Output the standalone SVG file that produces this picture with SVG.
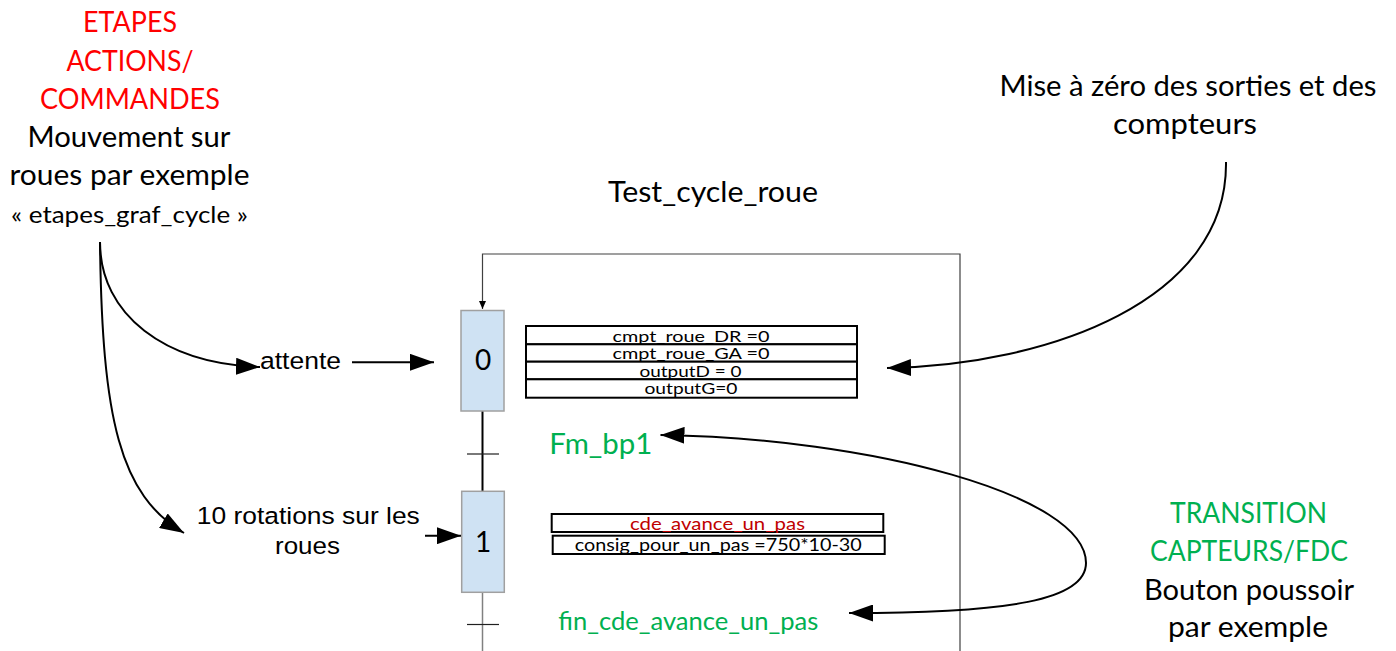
<svg xmlns="http://www.w3.org/2000/svg" width="1396" height="651" viewBox="0 0 1396 651">
  <style>
    .cal { font-family: Lato, "Noto Sans", "DejaVu Sans", sans-serif; }
    .ari { font-family: "Liberation Sans", Arial, sans-serif; }
    .red { fill: #ff0000; }
    .grn { fill: #00b050; }
    .blk { fill: #000000; }
    .dred { fill: #c00000; }
    .step { fill: #cfe2f3; stroke: #a0a0a0; stroke-width: 1.5; }
    .act { fill: #ffffff; stroke: #000000; stroke-width: 2; }
    .conn { fill: none; stroke: #000000; stroke-width: 2; }
    .frame { fill: none; stroke: #404040; stroke-width: 1.2; }
    .tick { stroke: #202020; stroke-width: 1.2; }
  </style>
  <defs>
    <marker id="head" markerUnits="userSpaceOnUse" viewBox="0 0 24 17" refX="24" refY="8.5" markerWidth="24" markerHeight="17" orient="auto-start-reverse">
      <path d="M0,0 L24,8.5 L0,17 z" fill="#000000"/>
    </marker>
    <marker id="small" markerUnits="userSpaceOnUse" viewBox="0 0 8 7" refX="8" refY="3.5" markerWidth="8" markerHeight="7" orient="auto">
      <path d="M0,0 L8,3.5 L0,7 z" fill="#000000"/>
    </marker>
  </defs>

  <rect x="0" y="0" width="1396" height="651" fill="#ffffff"/>

  <!-- explanatory captions -->
  <g id="legend-steps" class="cal" text-anchor="middle" font-size="28.5">
    <text class="red" x="130" y="32" textLength="94" lengthAdjust="spacingAndGlyphs">ETAPES</text>
    <text class="red" x="130" y="71" textLength="127" lengthAdjust="spacingAndGlyphs">ACTIONS/</text>
    <text class="red" x="130" y="109" textLength="180" lengthAdjust="spacingAndGlyphs">COMMANDES</text>
    <text class="blk" x="129" y="147" textLength="203" lengthAdjust="spacingAndGlyphs">Mouvement sur</text>
    <text class="blk" x="129.5" y="185" textLength="240" lengthAdjust="spacingAndGlyphs">roues par exemple</text>
    <text class="blk" x="129.5" y="223" font-size="23" textLength="237" lengthAdjust="spacingAndGlyphs">« etapes_graf_cycle »</text>
  </g>

  <g id="legend-reset" class="cal blk" text-anchor="middle" font-size="28.5">
    <text x="1188" y="96" textLength="377" lengthAdjust="spacingAndGlyphs">Mise à zéro des sorties et des</text>
    <text x="1185" y="134" textLength="144" lengthAdjust="spacingAndGlyphs">compteurs</text>
  </g>

  <g id="legend-transition" class="cal" text-anchor="middle" font-size="28.5">
    <text class="grn" x="1248.5" y="523" textLength="157" lengthAdjust="spacingAndGlyphs">TRANSITION</text>
    <text class="grn" x="1249" y="561" textLength="198" lengthAdjust="spacingAndGlyphs">CAPTEURS/FDC</text>
    <text class="blk" x="1249" y="600" textLength="210" lengthAdjust="spacingAndGlyphs">Bouton poussoir</text>
    <text class="blk" x="1248" y="637" textLength="160" lengthAdjust="spacingAndGlyphs">par exemple</text>
  </g>

  <g id="title" class="cal blk" text-anchor="middle" font-size="28.5">
    <text x="713" y="202" textLength="210" lengthAdjust="spacingAndGlyphs">Test_cycle_roue</text>
  </g>

  <g id="label-attente" class="ari blk" font-size="24.5">
    <text x="260" y="369" textLength="81" lengthAdjust="spacingAndGlyphs">attente</text>
  </g>

  <g id="label-rotations" class="ari blk" font-size="24.5" text-anchor="middle">
    <text x="308.3" y="524" textLength="223" lengthAdjust="spacingAndGlyphs">10 rotations sur les</text>
    <text x="307.5" y="554" textLength="65" lengthAdjust="spacingAndGlyphs">roues</text>
  </g>

  <!-- GRAFCET: frame loop, links and transitions -->
  <g id="connectors">
    <path class="frame" d="M960,651 L960,254 L482.5,254 L482.5,309" marker-end="url(#small)"/>
    <line x1="482.5" y1="411" x2="482.5" y2="491" stroke="#000000" stroke-width="2"/>
    <line x1="482.5" y1="592.5" x2="482.5" y2="651" stroke="#808080" stroke-width="1.5"/>
    <line class="tick" x1="467" y1="454" x2="499" y2="454"/>
    <line class="tick" x1="467" y1="624.5" x2="499" y2="624.5"/>

    <path class="conn" d="M100,242 C100,315 165,364 260,367" marker-end="url(#head)"/>
    <path class="conn" d="M100,242 C102,420 120,495 184,533" marker-end="url(#head)"/>
    <path class="conn" d="M352,362.3 L434,362.3" marker-end="url(#head)"/>
    <path class="conn" d="M425,535.7 L461,535.7" marker-end="url(#head)"/>
    <path class="conn" d="M1226,162 C1228,300 1050,365 887,368" marker-end="url(#head)"/>
    <path class="conn" d="M660.5,435 C870,438 1086,495 1086,563 C1086,600 1010,613 849,613" marker-start="url(#head)" marker-end="url(#head)"/>
  </g>

  <g id="step-0">
    <rect class="step" x="461" y="310.5" width="43" height="100.5"/>
    <text class="cal blk" x="483" y="370" font-size="28" text-anchor="middle">0</text>
  </g>

  <g id="actions-0" class="cal blk" font-size="15.5" text-anchor="middle">
    <rect class="act" x="526" y="326" width="331" height="18.3"/>
    <rect class="act" x="526" y="344.3" width="331" height="17.4"/>
    <rect class="act" x="526" y="361.7" width="331" height="17.6"/>
    <rect class="act" x="526" y="379.3" width="331" height="18.4"/>
    <text x="691" y="341.5" textLength="157" lengthAdjust="spacingAndGlyphs">cmpt_roue_DR =0</text>
    <text x="691" y="359" textLength="157" lengthAdjust="spacingAndGlyphs">cmpt_roue_GA =0</text>
    <text x="690.5" y="376.5" textLength="102" lengthAdjust="spacingAndGlyphs">outputD = 0</text>
    <text x="691" y="394" textLength="93" lengthAdjust="spacingAndGlyphs">outputG=0</text>
  </g>

  <g id="transition-0" class="cal grn" font-size="29.5">
    <text x="549.3" y="454" textLength="103" lengthAdjust="spacingAndGlyphs">Fm_bp1</text>
  </g>

  <g id="step-1">
    <rect class="step" x="461.7" y="491.3" width="42.6" height="101"/>
    <text class="cal blk" x="483" y="551.7" font-size="28" text-anchor="middle">1</text>
  </g>

  <g id="actions-1" class="cal" font-size="17" text-anchor="middle">
    <rect class="act" x="551.7" y="514" width="331.6" height="18"/>
    <rect class="act" x="552.7" y="535.7" width="332" height="18.3"/>
    <text class="dred" x="717.5" y="530" textLength="175" lengthAdjust="spacingAndGlyphs">cde_avance_un_pas</text>
    <text class="blk" x="718.3" y="550.7" textLength="287" lengthAdjust="spacingAndGlyphs">consig_pour_un_pas =750*10-30</text>
  </g>

  <g id="transition-1" class="cal grn" font-size="25">
    <text x="558.3" y="630" textLength="260" lengthAdjust="spacingAndGlyphs">fin_cde_avance_un_pas</text>
  </g>
</svg>
